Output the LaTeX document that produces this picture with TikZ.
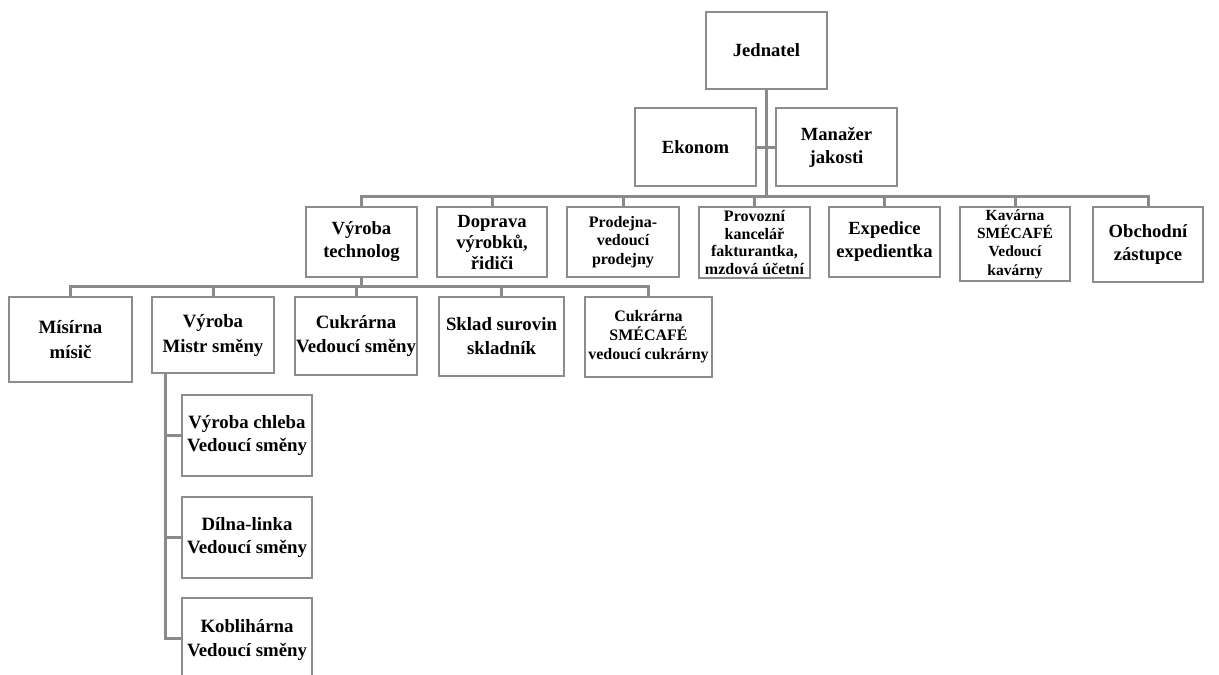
\documentclass[tikz,border=0pt]{standalone}
\usepackage{fontspec}
\setmainfont{Liberation Serif}
\usetikzlibrary{calc}
\begin{document}
\begin{tikzpicture}[x=1pt,y=-1pt,
  box/.style={draw=boxgray,line width=1.3pt,fill=white,rectangle,inner sep=1pt,
    align=center,font=\bfseries\fontsize{18.6}{23}\selectfont},
  conn/.style={draw=conngray,line width=3pt}]
\definecolor{boxgray}{RGB}{140,140,140}
\definecolor{conngray}{RGB}{138,138,138}
\useasboundingbox (0,0) rectangle (1219,675);
\begin{scope}
\clip (0,0) rectangle (1219,675);

% top management
\node[box,minimum width=121pt,minimum height=77pt] (jed) at (766.5,50.5) {Jednatel};
\node[box,minimum width=121pt,minimum height=78pt] (ek) at (695.5,147) {Ekonom};
\node[box,minimum width=121pt,minimum height=78pt] (man) at (836.5,147) {Manažer\\jakosti};

% departments
\node[box,minimum width=111pt,minimum height=70pt] (vt) at (361.5,242) {Výroba\\technolog};
\node[box,font=\bfseries\fontsize{18.6}{21}\selectfont,minimum width=110pt,minimum height=70pt] (dop) at (492,242) {Doprava\\výrobků,\\řidiči};
\node[box,font=\bfseries\fontsize{16}{18.3}\selectfont,minimum width=112pt,minimum height=70pt] (pro) at (623,242) {Prodejna-\\vedoucí\\prodejny};
\node[box,font=\bfseries\fontsize{16}{17.5}\selectfont,minimum width=111pt,minimum height=71pt] (prov) at (754.5,242.5) {Provozní\\kancelář\\fakturantka,\\mzdová účetní};
\node[box,minimum width=111pt,minimum height=70pt] (exp) at (884.5,242) {Expedice\\expedientka};
\node[box,font=\bfseries\fontsize{15.5}{18.3}\selectfont,minimum width=110pt,minimum height=74pt] (kav) at (1015,244) {Kavárna\\SMÉCAFÉ\\Vedoucí\\kavárny};
\node[box,minimum width=110pt,minimum height=75pt] (ob) at (1148,244.5) {Obchodní\\zástupce};

% production units
\node[box,font=\bfseries\fontsize{18.8}{25}\selectfont,minimum width=123pt,minimum height=85pt] (mis) at (70.5,339.5) {Mísírna\\mísič};
\node[box,font=\bfseries\fontsize{18.8}{25}\selectfont,minimum width=122pt,minimum height=76pt] (vm) at (213,335) {Výroba\\Mistr směny};
\node[box,font=\bfseries\fontsize{18.8}{24}\selectfont,minimum width=122pt,minimum height=78pt] (cuk) at (356,336) {Cukrárna\\Vedoucí směny};
\node[box,font=\bfseries\fontsize{18.8}{24}\selectfont,minimum width=125pt,minimum height=79pt] (skl) at (501.5,336.5) {Sklad surovin\\skladník};
\node[box,font=\bfseries\fontsize{16}{19}\selectfont,minimum width=127pt,minimum height=80pt] (cs) at (648.5,337) {Cukrárna\\SMÉCAFÉ\\vedoucí cukrárny};

% shifts
\node[box,font=\bfseries\fontsize{18.8}{23}\selectfont,minimum width=130pt,minimum height=81pt] (vc) at (247,435.5) {Výroba chleba\\Vedoucí směny};
\node[box,font=\bfseries\fontsize{18.8}{23}\selectfont,minimum width=130pt,minimum height=81pt] (dl) at (247,537.5) {Dílna-linka\\Vedoucí směny};
\node[box,font=\bfseries\fontsize{18.8}{24}\selectfont,minimum width=130pt,minimum height=84pt] (kob) at (247,640) {Koblihárna\\Vedoucí směny};

% connectors, first level
\coordinate (b1) at (0,196);
\draw[conn] (jed.south) -- (jed.south |- b1);
\draw[conn] (ek.east) -- (man.west);
\draw[conn,line cap=rect] (vt.north |- b1) -- (ob.north |- b1);
\foreach \n in {vt,dop,pro,prov,exp,kav,ob}
  \draw[conn] (\n.north |- b1) -- (\n.north);

% connectors, second level
\coordinate (b2) at (0,286);
\draw[conn] (vt.south) -- (vt.south |- b2);
\draw[conn,line cap=rect] (mis.north |- b2) -- (cs.north |- b2);
\foreach \n in {mis,vm,cuk,skl,cs}
  \draw[conn] (\n.north |- b2) -- (\n.north);

% connectors, third level
\coordinate (sp) at (165,0);
\coordinate (kobstub) at ($(kob.west)+(0,-2)$);
\draw[conn,line cap=rect] (vm.south -| sp) -- (kobstub -| sp);
\foreach \n in {vc,dl}
  \draw[conn] (\n.west -| sp) -- (\n.west);
\draw[conn] (kobstub -| sp) -- (kobstub);
\end{scope}
\end{tikzpicture}
\end{document}
